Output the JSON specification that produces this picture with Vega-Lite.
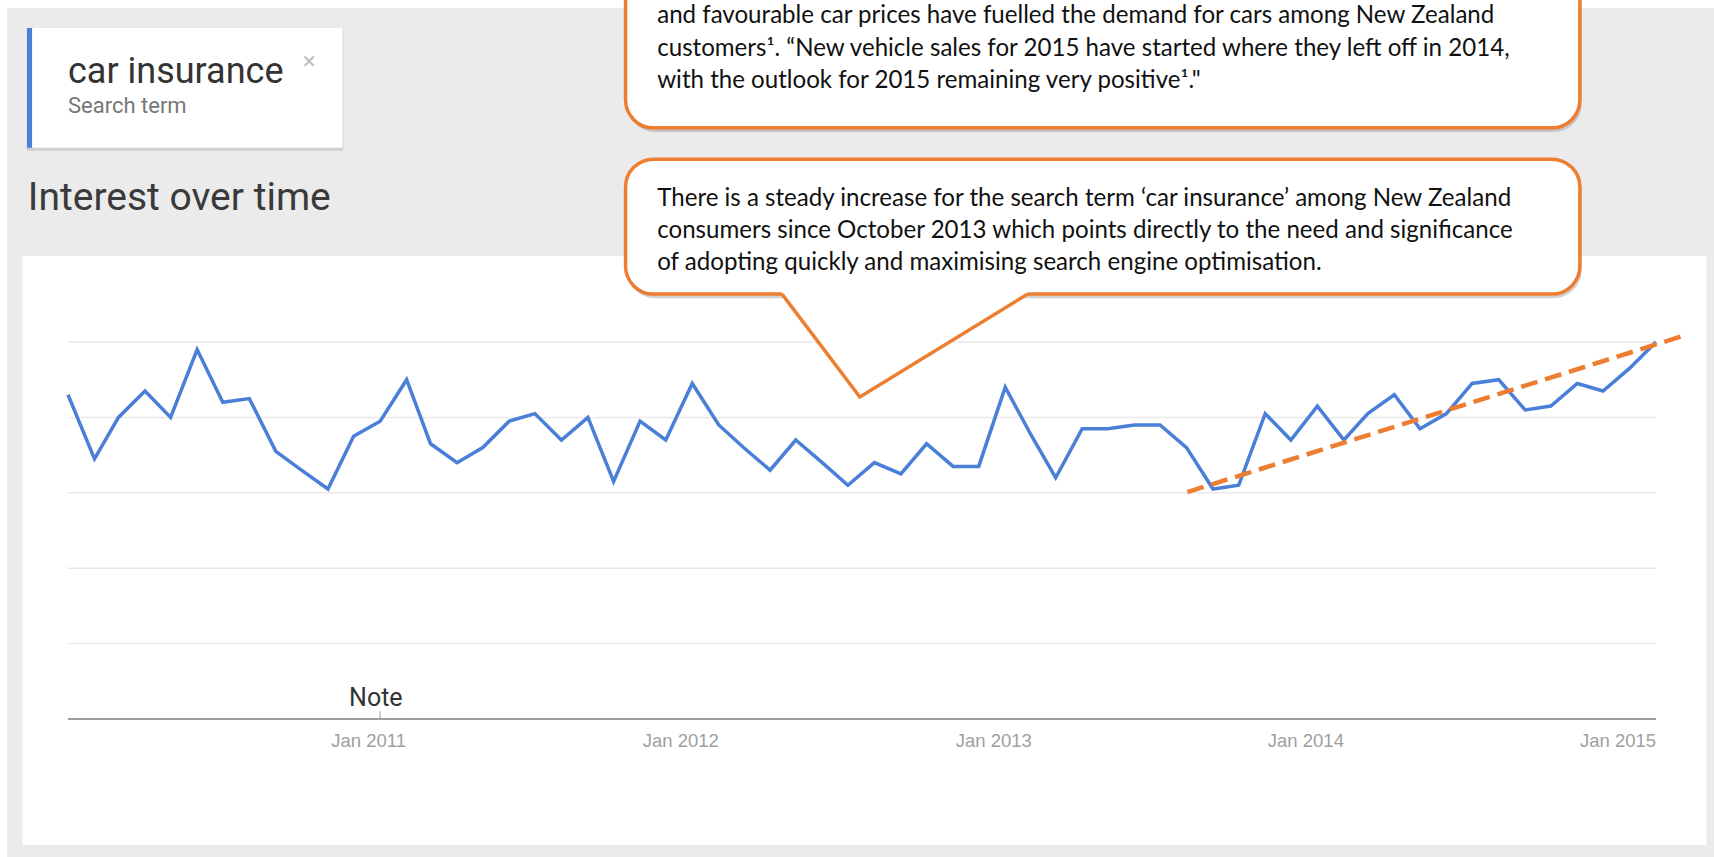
{
  "$schema": "https://vega.github.io/schema/vega-lite/v6.json",
  "width": 1588,
  "height": 377,
  "autosize": {"type": "none"},
  "padding": {"left": 68, "top": 342, "right": 58, "bottom": 138},
  "background": "#ffffff",
  "config": {"view": {"stroke": null}},
  "data": {"values": [{}]},
  "datasets": {
    "trends": [
      {"date": "2010-01-15", "interest": 86}, {"date": "2010-02-15", "interest": 69}, {"date": "2010-03-15", "interest": 80},
      {"date": "2010-04-15", "interest": 87}, {"date": "2010-05-15", "interest": 80}, {"date": "2010-06-15", "interest": 98},
      {"date": "2010-07-15", "interest": 84}, {"date": "2010-08-15", "interest": 85}, {"date": "2010-09-15", "interest": 71},
      {"date": "2010-10-15", "interest": 66}, {"date": "2010-11-15", "interest": 61}, {"date": "2010-12-15", "interest": 75},
      {"date": "2011-01-15", "interest": 79}, {"date": "2011-02-15", "interest": 90}, {"date": "2011-03-15", "interest": 73},
      {"date": "2011-04-15", "interest": 68}, {"date": "2011-05-15", "interest": 72}, {"date": "2011-06-15", "interest": 79},
      {"date": "2011-07-15", "interest": 81}, {"date": "2011-08-15", "interest": 74}, {"date": "2011-09-15", "interest": 80},
      {"date": "2011-10-15", "interest": 63}, {"date": "2011-11-15", "interest": 79}, {"date": "2011-12-15", "interest": 74},
      {"date": "2012-01-15", "interest": 89}, {"date": "2012-02-15", "interest": 78}, {"date": "2012-03-15", "interest": 72},
      {"date": "2012-04-15", "interest": 66}, {"date": "2012-05-15", "interest": 74}, {"date": "2012-06-15", "interest": 68},
      {"date": "2012-07-15", "interest": 62}, {"date": "2012-08-15", "interest": 68}, {"date": "2012-09-15", "interest": 65},
      {"date": "2012-10-15", "interest": 73}, {"date": "2012-11-15", "interest": 67}, {"date": "2012-12-15", "interest": 67},
      {"date": "2013-01-15", "interest": 88}, {"date": "2013-02-15", "interest": 75}, {"date": "2013-03-15", "interest": 64},
      {"date": "2013-04-15", "interest": 77}, {"date": "2013-05-15", "interest": 77}, {"date": "2013-06-15", "interest": 78},
      {"date": "2013-07-15", "interest": 78}, {"date": "2013-08-15", "interest": 72}, {"date": "2013-09-15", "interest": 61},
      {"date": "2013-10-15", "interest": 62}, {"date": "2013-11-15", "interest": 81}, {"date": "2013-12-15", "interest": 74},
      {"date": "2014-01-15", "interest": 83}, {"date": "2014-02-15", "interest": 74}, {"date": "2014-03-15", "interest": 81},
      {"date": "2014-04-15", "interest": 86}, {"date": "2014-05-15", "interest": 77}, {"date": "2014-06-15", "interest": 81},
      {"date": "2014-07-15", "interest": 89}, {"date": "2014-08-15", "interest": 90}, {"date": "2014-09-15", "interest": 82},
      {"date": "2014-10-15", "interest": 83}, {"date": "2014-11-15", "interest": 89}, {"date": "2014-12-15", "interest": 87},
      {"date": "2015-01-15", "interest": 93}, {"date": "2015-02-15", "interest": 100}
    ],
    "trendline": [
      {"date": "2013-08-16", "interest": 60.2},
      {"date": "2015-03-17", "interest": 101.5}
    ],
    "pointer": [
      {"date": "2012-04-29", "interest": 112.7},
      {"date": "2012-07-29", "interest": 85.4},
      {"date": "2013-02-10", "interest": 112.7}
    ],
    "grid": [{"v": 20}, {"v": 40}, {"v": 60}, {"v": 80}, {"v": 100}]
  },
  "layer": [
    {
      "mark": {"type": "rect", "fill": "#ecebeb"},
      "encoding": {
        "x": {"datum": {"year": 2009, "month": 11, "date": 5}, "type": "temporal"},
        "x2": {"datum": {"year": 2015, "month": 6, "date": 30}},
        "y": {"datum": 188.6, "type": "quantitative", "axis": null},
        "y2": {"datum": -45}
      }
    },
    {
      "mark": {"type": "rect", "fill": "#ffffff"},
      "encoding": {
        "x": {"datum": {"year": 2009, "month": 11, "date": 23}, "type": "temporal"},
        "x2": {"datum": {"year": 2015, "month": 4, "date": 15}},
        "y": {"datum": 122.8, "type": "quantitative", "axis": null},
        "y2": {"datum": -33.4}
      }
    },
    {
      "data": {"name": "grid"},
      "mark": {"type": "rule", "stroke": "#e9e9e9", "strokeWidth": 1.5},
      "encoding": {
        "y": {"field": "v", "type": "quantitative", "axis": null}
      }
    },
    {
      "mark": {"type": "rule", "stroke": "#9e9e9e", "strokeWidth": 2},
      "encoding": {
        "y": {"datum": 0, "type": "quantitative", "axis": null}
      }
    },
    {
      "mark": {"type": "rect", "fill": "#cfcfcf"},
      "encoding": {
        "x": {"datum": {"year": 2009, "month": 11, "date": 28}, "type": "temporal"},
        "x2": {"datum": {"year": 2010, "month": 12, "date": 3}},
        "y": {"datum": 182.5, "type": "quantitative", "axis": null},
        "y2": {"datum": 150.7}
      }
    },
    {
      "mark": {"type": "rect", "fill": "#ffffff"},
      "encoding": {
        "x": {"datum": {"year": 2009, "month": 11, "date": 28}, "type": "temporal"},
        "x2": {"datum": {"year": 2010, "month": 12, "date": 2}},
        "y": {"datum": 183.3, "type": "quantitative", "axis": null},
        "y2": {"datum": 151.5}
      }
    },
    {
      "mark": {"type": "rect", "fill": "#4a7fd6"},
      "encoding": {
        "x": {"datum": {"year": 2009, "month": 11, "date": 28}, "type": "temporal"},
        "x2": {"datum": {"year": 2009, "month": 12, "date": 4}},
        "y": {"datum": 183.3, "type": "quantitative", "axis": null},
        "y2": {"datum": 151.5}
      }
    },
    {
      "mark": {"type": "text", "text": "car insurance", "font": "Roboto", "fontSize": 36, "fill": "#333333", "align": "left", "baseline": "alphabetic"},
      "encoding": {
        "x": {"datum": {"year": 2010, "month": 1, "date": 15}, "type": "temporal"},
        "y": {"datum": 168.7, "type": "quantitative", "axis": null}
      }
    },
    {
      "mark": {"type": "text", "text": "Search term", "font": "Roboto", "fontSize": 22, "fill": "#777777", "align": "left", "baseline": "alphabetic"},
      "encoding": {
        "x": {"datum": {"year": 2010, "month": 1, "date": 15}, "type": "temporal"},
        "y": {"datum": 160.7, "type": "quantitative", "axis": null}
      }
    },
    {
      "mark": {"type": "text", "text": "×", "font": "Roboto", "fontSize": 24, "fill": "#bdbdbd", "align": "center", "baseline": "middle"},
      "encoding": {
        "x": {"datum": {"year": 2010, "month": 10, "date": 24}, "type": "temporal"},
        "y": {"datum": 174.3, "type": "quantitative", "axis": null}
      }
    },
    {
      "mark": {"type": "text", "text": "Interest over time", "font": "Roboto", "fontSize": 39, "fill": "#3a3a3a", "align": "left", "baseline": "alphabetic"},
      "encoding": {
        "x": {"datum": {"year": 2009, "month": 11, "date": 29}, "type": "temporal"},
        "y": {"datum": 135.0, "type": "quantitative", "axis": null}
      }
    },
    {
      "mark": {"type": "rect", "fill": "#7f7f7f", "opacity": 0.35, "cornerRadius": 28},
      "encoding": {
        "x": {"datum": {"year": 2011, "month": 10, "date": 31}, "type": "temporal"},
        "x2": {"datum": {"year": 2014, "month": 11, "date": 20}},
        "y": {"datum": 200.2, "type": "quantitative", "axis": null},
        "y2": {"datum": 155.7}
      }
    },
    {
      "mark": {"type": "rect", "fill": "#ffffff", "stroke": "#ED7D31", "strokeWidth": 3.5, "cornerRadius": 28},
      "encoding": {
        "x": {"datum": {"year": 2011, "month": 10, "date": 29}, "type": "temporal"},
        "x2": {"datum": {"year": 2014, "month": 11, "date": 18}},
        "y": {"datum": 201.3, "type": "quantitative", "axis": null},
        "y2": {"datum": 156.8}
      }
    },
    {
      "mark": {
        "type": "text",
        "text": [
          "and favourable car prices have fuelled the demand for cars among New Zealand",
          "customers¹. “New vehicle sales for 2015 have started where they left off in 2014,",
          "with the outlook for 2015 remaining very positive¹.\""
        ],
        "font": "Lato", "fontSize": 24.1, "lineHeight": 32.5, "fill": "#111111", "align": "left", "baseline": "alphabetic"
      },
      "encoding": {
        "x": {"datum": {"year": 2011, "month": 12, "date": 5}, "type": "temporal"},
        "y": {"datum": 184.6, "type": "quantitative", "axis": null}
      }
    },
    {
      "mark": {"type": "rect", "fill": "#7f7f7f", "opacity": 0.35, "cornerRadius": 28},
      "encoding": {
        "x": {"datum": {"year": 2011, "month": 10, "date": 31}, "type": "temporal"},
        "x2": {"datum": {"year": 2014, "month": 11, "date": 20}},
        "y": {"datum": 147.4, "type": "quantitative", "axis": null},
        "y2": {"datum": 111.6}
      }
    },
    {
      "mark": {"type": "rect", "fill": "#ffffff", "stroke": "#ED7D31", "strokeWidth": 3.5, "cornerRadius": 28},
      "encoding": {
        "x": {"datum": {"year": 2011, "month": 10, "date": 29}, "type": "temporal"},
        "x2": {"datum": {"year": 2014, "month": 11, "date": 18}},
        "y": {"datum": 148.5, "type": "quantitative", "axis": null},
        "y2": {"datum": 112.7}
      }
    },
    {
      "data": {"name": "pointer"},
      "mark": {"type": "area", "fill": "#ffffff", "opacity": 1},
      "encoding": {
        "x": {"field": "date", "type": "temporal"},
        "y": {"field": "interest", "type": "quantitative", "axis": null},
        "y2": {"datum": 113.6}
      }
    },
    {
      "data": {"name": "pointer"},
      "mark": {"type": "line", "stroke": "#ED7D31", "strokeWidth": 3.5, "strokeJoin": "miter"},
      "encoding": {
        "x": {"field": "date", "type": "temporal"},
        "y": {"field": "interest", "type": "quantitative", "axis": null}
      }
    },
    {
      "mark": {
        "type": "text",
        "text": [
          "There is a steady increase for the search term ‘car insurance’ among New Zealand",
          "consumers since October 2013 which points directly to the need and significance",
          "of adopting quickly and maximising search engine optimisation."
        ],
        "font": "Lato", "fontSize": 24.1, "lineHeight": 32, "fill": "#111111", "align": "left", "baseline": "alphabetic"
      },
      "encoding": {
        "x": {"datum": {"year": 2011, "month": 12, "date": 5}, "type": "temporal"},
        "y": {"datum": 136.1, "type": "quantitative", "axis": null}
      }
    },
    {
      "mark": {"type": "rule", "stroke": "#9e9e9e", "strokeWidth": 1},
      "encoding": {
        "x": {"datum": {"year": 2011, "month": 1, "date": 15}, "type": "temporal"},
        "y": {"datum": 0, "type": "quantitative", "axis": null},
        "y2": {"datum": 2.1}
      }
    },
    {
      "mark": {"type": "text", "text": "Note", "font": "Roboto", "fontSize": 25, "fill": "#333333", "align": "center", "baseline": "middle"},
      "encoding": {
        "x": {"datum": {"year": 2011, "month": 1, "date": 10}, "type": "temporal"},
        "y": {"datum": 5.6, "type": "quantitative", "axis": null}
      }
    },
    {
      "data": {"name": "trends"},
      "mark": {"type": "line", "stroke": "#4a7fd8", "strokeWidth": 3.5, "strokeJoin": "miter"},
      "encoding": {
        "x": {
          "field": "date", "type": "temporal",
          "scale": {"domain": [{"year": 2010, "month": 1, "date": 15}, {"year": 2015, "month": 2, "date": 15}]},
          "axis": {
            "tickCount": {"interval": "year", "step": 1},
            "format": "%b %Y", "title": null, "domain": false, "ticks": false, "grid": false,
            "labelFont": "Liberation Sans", "labelFontSize": 18.5, "labelColor": "#a0a0a0",
            "labelPadding": 12, "labelFlush": false, "labelOverlap": false, "zindex": 1
          }
        },
        "y": {"field": "interest", "type": "quantitative", "scale": {"domain": [0, 100], "nice": false, "zero": false}, "axis": null}
      }
    },
    {
      "data": {"name": "trendline"},
      "mark": {"type": "line", "stroke": "#ED7D31", "strokeWidth": 4.5, "strokeDash": [17, 8]},
      "encoding": {
        "x": {"field": "date", "type": "temporal"},
        "y": {"field": "interest", "type": "quantitative", "axis": null}
      }
    }
  ]
}
